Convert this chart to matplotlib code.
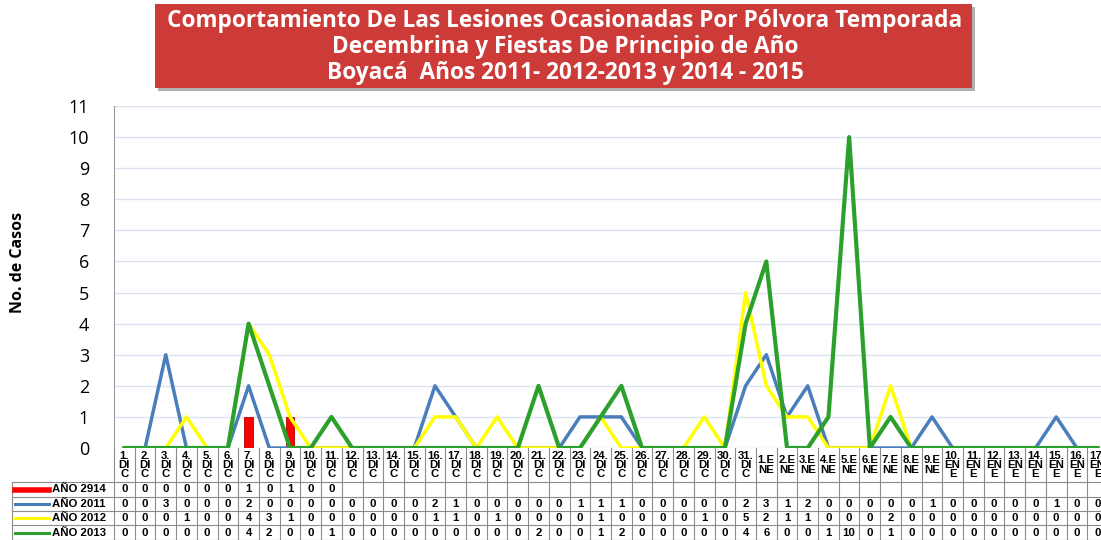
import matplotlib
matplotlib.use("Agg")
import matplotlib.pyplot as plt
from matplotlib.transforms import blended_transform_factory
from matplotlib.patches import Rectangle
from matplotlib.lines import Line2D

dic_labels = ["%d.\nDI\nC" % d for d in range(1, 32)]
ene_labels = ["%d.E\nNE" % d for d in range(1, 10)] + ["%d.\nEN\nE" % d for d in range(10, 18)]
labels = dic_labels + ene_labels

y2914 = [0, 0, 0, 0, 0, 0, 1, 0, 1, 0, 0]
y2011 = [0, 0, 3, 0, 0, 0, 2, 0, 0, 0, 0, 0, 0, 0, 0, 2, 1, 0, 0, 0, 0, 0, 1, 1,
         1, 0, 0, 0, 0, 0, 2, 3, 1, 2, 0, 0, 0, 0, 0, 1, 0, 0, 0, 0, 0, 1, 0, 0]
y2012 = [0, 0, 0, 1, 0, 0, 4, 3, 1, 0, 0, 0, 0, 0, 0, 1, 1, 0, 1, 0, 0, 0, 0, 1,
         0, 0, 0, 0, 1, 0, 5, 2, 1, 1, 0, 0, 0, 2, 0, 0, 0, 0, 0, 0, 0, 0, 0, 0]
y2013 = [0, 0, 0, 0, 0, 0, 4, 2, 0, 0, 1, 0, 0, 0, 0, 0, 0, 0, 0, 0, 2, 0, 0, 1,
         2, 0, 0, 0, 0, 0, 4, 6, 0, 0, 1, 10, 0, 1, 0, 0, 0, 0, 0, 0, 0, 0, 0, 0]

series_names = ["AÑO 2914", "AÑO 2011", "AÑO 2012", "AÑO 2013"]
series_data = [y2914, y2011, y2012, y2013]
series_colors = ["#FF0000", "#4A7EBB", "#FFFF00", "#2CA02C"]

W, H = 1101, 540
fig = plt.figure(figsize=(W / 100, H / 100), dpi=100)

def fx(px):
    return px / W

def fy(py):
    return 1 - py / H

# plot area (extends slightly past the right edge, like the original)
left, right, top, bottom = 114, 1108, 106, 448
ax = fig.add_axes([fx(left), fy(bottom), fx(right - left), (bottom - top) / H])

xs = list(range(len(labels)))
ax.bar(xs[:len(y2914)], y2914, width=0.4, color="#FF0000", edgecolor="#B80000", linewidth=0.6, zorder=2)
ax.plot(xs, y2011, color=series_colors[1], lw=2.5, zorder=3)
ax.plot(xs, y2012, color=series_colors[2], lw=2.5, zorder=4)
ax.plot(xs, y2013, color=series_colors[3], lw=3, zorder=5)

ax.set_xlim(-0.5, len(labels) - 0.5)
ax.set_ylim(0, 11)
ax.set_yticks(range(0, 12))
ax.set_xticks([])
ax.grid(axis="y", color="#DCE3F0", lw=1)
ax.set_axisbelow(True)
for s in ["top", "right", "bottom"]:
    ax.spines[s].set_visible(False)
ax.spines["left"].set_color("#9A9A9A")
ax.tick_params(axis="y", length=0, pad=18, labelsize=13)
for t in ax.get_yticklabels():
    t.set_fontfamily("Open Sans")

fig.text(fx(18), fy(262), "No. de Casos", rotation=90, ha="center", va="center",
         fontsize=11.5, fontweight="bold", family="Open Sans")

# title box
fig.patches.append(Rectangle((fx(158), fy(91)), fx(817), (91 - 7) / H, transform=fig.transFigure,
                             facecolor="#B0B0B0", edgecolor="none", zorder=0))
fig.patches.append(Rectangle((fx(155), fy(88)), fx(817), (88 - 4) / H, transform=fig.transFigure,
                             facecolor="#CC3B38", edgecolor="none", zorder=1))
fig.text(fx(565), fy(47), "Comportamiento De Las Lesiones Ocasionadas Por Pólvora Temporada\n"
         "Decembrina y Fiestas De Principio de Año\nBoyacá  Años 2011- 2012-2013 y 2014 - 2015",
         ha="center", va="center", color="white", fontsize=16.3, fontweight="bold",
         family="Open Sans", linespacing=1.12, zorder=2)

# data table under the chart
tr = blended_transform_factory(ax.transData, fig.transFigure)
row_edges = [448, 482, 497, 511, 525, 540]
grid_c = "#8C8C8C"
n = len(labels)
for i in range(n + 1):
    ax.add_line(Line2D([i - 0.5, i - 0.5], [fy(448), fy(540)], transform=tr, color=grid_c,
                       lw=0.8, clip_on=False))
for py in row_edges[1:]:
    fig.add_artist(Line2D([fx(12), fx(W)], [fy(py), fy(py)], color=grid_c, lw=0.8))
fig.add_artist(Line2D([fx(12), fx(12)], [fy(482), fy(540)], color=grid_c, lw=0.8))

tfont = dict(fontsize=8.2, fontweight="bold", family="Liberation Sans")
for i, lab in enumerate(labels):
    ax.text(i, fy(465), lab, transform=tr, ha="center", va="center",
            linespacing=0.9, clip_on=False, **tfont)

for r, (name, vals, col) in enumerate(zip(series_names, series_data, series_colors)):
    yc = (row_edges[r + 1] + row_edges[r + 2]) / 2
    lw = 4 if r == 0 else 2.2
    fig.add_artist(Line2D([fx(15), fx(49)], [fy(yc), fy(yc)], color=col, lw=lw))
    fig.text(fx(52), fy(yc), name, ha="left", va="center", **tfont)
    for i, v in enumerate(vals):
        ax.text(i, fy(yc), str(v), transform=tr, ha="center", va="center",
                clip_on=False, **tfont)

fig.savefig("out.png", dpi=100)
